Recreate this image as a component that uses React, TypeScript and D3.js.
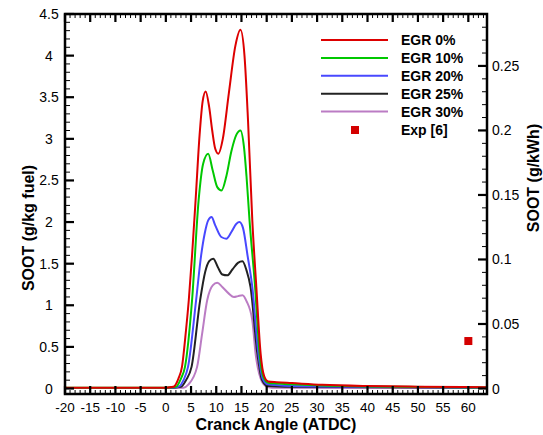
import React from "react";
import { scaleLinear, line, curveMonotoneX, range } from "d3";

// crank angle (deg ATDC) and soot (g/kg fuel) per EGR level
const egr0: [number, number][] = [
  [-20, 0.01], [0, 0.01], [1.5, 0.02], [2.5, 0.12], [3.2, 0.26], [4.0, 0.7], [4.55, 1.06],
  [5.2, 1.6], [5.9, 2.26], [6.7, 3.05], [7.3, 3.45], [7.9, 3.57], [8.6, 3.38], [9.2, 3.1],
  [9.8, 2.88], [10.4, 2.82], [11.3, 3.0], [12.5, 3.55], [13.8, 4.12], [14.8, 4.31],
  [15.6, 4.0], [16.3, 3.22], [17.15, 2.02], [17.95, 1.22], [18.8, 0.42], [19.5, 0.15],
  [20.3, 0.085], [22, 0.075], [25, 0.065], [31, 0.045], [40, 0.03], [50, 0.022], [64, 0.016],
];
const egr10: [number, number][] = [
  [-20, 0.01], [0, 0.01], [2, 0.02], [3, 0.12], [3.8, 0.26], [5.2, 1.06], [6.5, 2.26],
  [7.4, 2.7], [8.4, 2.82], [9.3, 2.62], [10.2, 2.42], [11.05, 2.38], [12, 2.55], [13, 2.85],
  [14.0, 3.05], [14.8, 3.1], [15.5, 2.9], [16.0, 2.55], [16.6, 2.02], [17.7, 1.22],
  [18.6, 0.42], [19.3, 0.15], [20.3, 0.07], [22, 0.06], [25, 0.05], [31, 0.035], [40, 0.025],
  [64, 0.012],
];
const egr20: [number, number][] = [
  [-20, 0.005], [0, 0.005], [2.5, 0.02], [3.5, 0.1], [4.4, 0.26], [6.0, 1.06], [7.0, 1.6],
  [7.7, 1.86], [8.4, 2.02], [9.06, 2.06], [9.8, 1.96], [11.0, 1.82], [12.0, 1.8], [13.0, 1.88],
  [14.0, 1.98], [14.6, 2.0], [15.3, 1.93], [16.2, 1.6], [17.15, 1.22], [18.35, 0.42],
  [19.2, 0.12], [20.2, 0.05], [25, 0.03], [40, 0.02], [64, 0.01],
];
const egr25: [number, number][] = [
  [-20, 0.005], [0, 0.005], [3, 0.02], [4.0, 0.1], [5.1, 0.26], [6.8, 1.06], [7.8, 1.4],
  [8.6, 1.53], [9.4, 1.56], [10.3, 1.46], [11.2, 1.37], [12.2, 1.36], [13.2, 1.43],
  [14.3, 1.51], [15.2, 1.53], [16.0, 1.42], [16.8, 1.22], [18.15, 0.42], [19.1, 0.1],
  [20.2, 0.03], [25, 0.02], [64, 0.008],
];
const egr30: [number, number][] = [
  [-20, 0.005], [0, 0.005], [3.5, 0.01], [4.5, 0.05], [6.2, 0.26], [7.2, 0.66], [8.2, 1.06],
  [9.3, 1.24], [10.2, 1.27], [11.2, 1.22], [12.5, 1.14], [13.5, 1.1], [14.3, 1.11],
  [15.2, 1.12], [16.0, 1.05], [17.15, 0.82], [17.8, 0.42], [18.8, 0.12], [19.8, 0.03],
  [21, 0.01], [64, 0.005],
];

// experimental point, in g/kWh (right axis)
const expX = [60];
const expY = [0.0368];

const seriesNames = ["EGR 0%", "EGR 10%", "EGR 20%", "EGR 25%", "EGR 30%"];
const seriesData = [egr0, egr10, egr20, egr25, egr30];
const seriesColors = ["#dd0000", "#00c800", "#4848ff", "#222222", "#bb7cc4"];

const xTicks = range(-20, 61, 5);
const yTicks = [0, 0.5, 1, 1.5, 2, 2.5, 3, 3.5, 4, 4.5];
const yRightTicks = [0, 0.05, 0.1, 0.15, 0.2, 0.25];

const App = () => {
  const width = 543;
  const height = 435;
  const left = 65, right = 487, top = 14, bottom = 394;

  const x = scaleLinear().domain([-20, 63.7]).range([left, right]);
  const y = scaleLinear().domain([-0.066, 4.5]).range([bottom, top]);
  const k = 0.0645; // g/kWh per g/kg fuel
  const yR = scaleLinear().domain([-0.066 * k, 4.5 * k]).range([bottom, top]);

  const path = line<[number, number]>()
    .x(d => x(d[0]))
    .y(d => y(d[1]))
    .curve(curveMonotoneX);

  const xMinor = range(-20, 64, 1);
  const yMinor = range(0, 4.51, 0.1);
  const yRMinor = range(0, 0.291, 0.01);
  const font = "Arial, 'Liberation Sans', sans-serif";

  return (
    <svg width={width} height={height} style={{ position: "absolute", left: 0, top: 0, fontFamily: font }}>
      <defs>
        <clipPath id="plot">
          <rect x={left} y={top} width={right - left} height={bottom - top} />
        </clipPath>
      </defs>
      <rect width={width} height={height} fill="white" />

      <g clipPath="url(#plot)">
        {seriesData.slice().reverse().map((d, i) => (
          <path key={i} d={path(d) || ""} fill="none"
            stroke={seriesColors[seriesData.length - 1 - i]} strokeWidth={2} />
        ))}
      </g>

      {expX.map((v, i) => (
        <rect key={i} x={x(v) - 4} y={yR(expY[i]) - 4} width={8} height={8} fill="#d40000" />
      ))}

      {/* ticks */}
      <g stroke="black" strokeWidth={1}>
        {xMinor.map((t, i) => (
          <g key={i}>
            <line x1={x(t)} x2={x(t)} y1={bottom} y2={bottom - (t % 5 === 0 ? 8 : 4)} />
            <line x1={x(t)} x2={x(t)} y1={top} y2={top + (t % 5 === 0 ? 8 : 4)} />
          </g>
        ))}
        {yMinor.map((t, i) => (
          <line key={i} x1={left} x2={left + (i % 5 === 0 ? 9 : 5)} y1={y(t)} y2={y(t)} />
        ))}
        {yRMinor.map((t, i) => (
          <line key={i} x1={right} x2={right - (i % 5 === 0 ? 9 : 5)} y1={yR(t)} y2={yR(t)} />
        ))}
      </g>
      <g stroke="black" strokeWidth={2.2}>
        {xTicks.map((t, i) => (
          <g key={i}>
            <line x1={x(t)} x2={x(t)} y1={bottom} y2={bottom - 8} />
            <line x1={x(t)} x2={x(t)} y1={top} y2={top + 8} />
          </g>
        ))}
        {yTicks.map((t, i) => (
          <line key={i} x1={left} x2={left + 9} y1={y(t)} y2={y(t)} />
        ))}
        {yRightTicks.map((t, i) => (
          <line key={i} x1={right} x2={right - 9} y1={yR(t)} y2={yR(t)} />
        ))}
      </g>

      <rect x={left} y={top} width={right - left} height={bottom - top}
        fill="none" stroke="black" strokeWidth={2.5} />

      {/* tick labels */}
      <g fontSize={14} fill="black">
        {xTicks.map((t, i) => (
          <text key={i} x={x(t)} y={411.5} textAnchor="middle" fontSize={13.5}>{t}</text>
        ))}
        {yTicks.map((t, i) => (
          <text key={i} x={49} y={y(t) + 5} textAnchor="middle">{t}</text>
        ))}
        {yRightTicks.map((t, i) => (
          <text key={i} x={492} y={yR(t) + 5}>{t}</text>
        ))}
      </g>

      {/* axis titles */}
      <text x={276} y={429.5} textAnchor="middle" fontSize={16} fontWeight="bold">Cranck Angle (ATDC)</text>
      <text transform="translate(34,228) rotate(-90)" textAnchor="middle" fontSize={16} fontWeight="bold">SOOT (g/kg fuel)</text>
      <text transform="translate(539,178) rotate(-90)" textAnchor="middle" fontSize={16} fontWeight="bold">SOOT (g/kWh)</text>

      {/* legend */}
      <g fontSize={14} fontWeight="bold">
        {seriesNames.map((n, i) => (
          <g key={n} transform={`translate(0, ${40 + i * 17.9})`}>
            <line x1={321} x2={388} y1={0} y2={0} stroke={seriesColors[i]} strokeWidth={2} />
            <text x={401} y={5}>{n}</text>
          </g>
        ))}
        <rect x={351} y={126} width={8} height={8} fill="#d40000" />
        <text x={401} y={135}>Exp [6]</text>
      </g>
    </svg>
  );
};

export default App;
